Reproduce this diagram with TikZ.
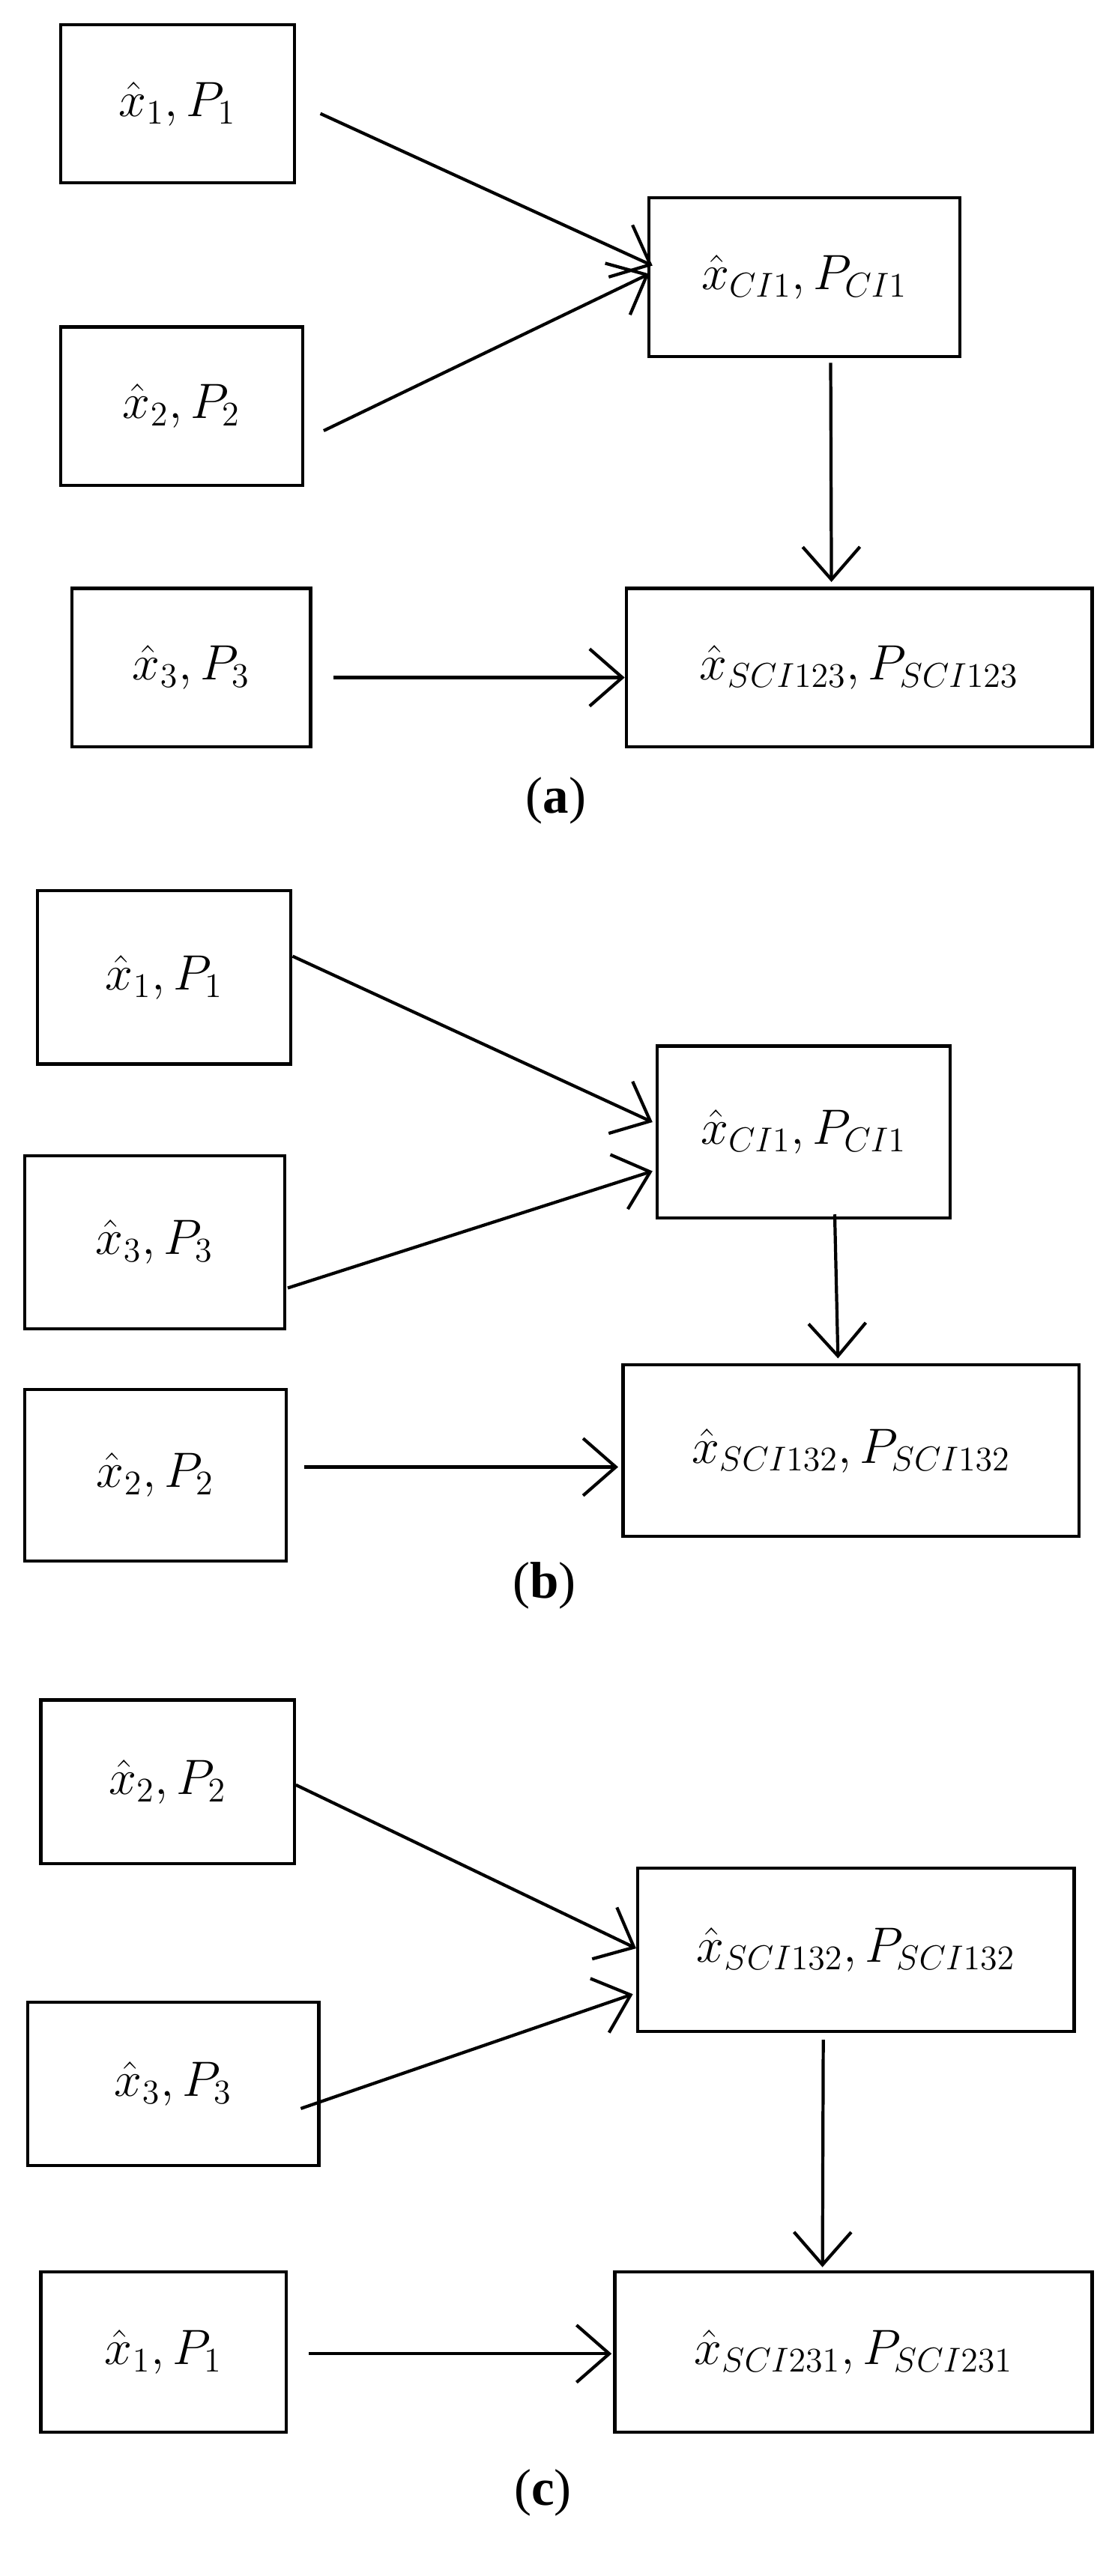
\documentclass[tikz,border=0pt]{standalone}
\usepackage{fontspec}
\setmainfont{Liberation Serif}
\usetikzlibrary{arrows.meta,calc}

\newcommand{\est}[1]{$\hat{x}_{#1},P_{#1}$}

\begin{document}
\begin{tikzpicture}[x=0.02cm,y=-0.02cm,
	box/.style={draw,line width=1.1pt,inner sep=0pt,font=\fontsize{17}{20}\selectfont},
	arr/.style={line width=1.1pt,-{Straight Barb[length=4mm,width=7mm,line width=1.1pt]}},
	sublabel/.style={font=\fontsize{18}{22}\selectfont}]
	\useasboundingbox (0,0) rectangle (680,1576);
	
	%(a)
	\node[box,minimum width=2.86cm,minimum height=1.94cm] (a1) at (108.5,63.5) {\est{1}};
	\node[box,minimum width=2.96cm,minimum height=1.94cm] (a2) at (111,248.5) {\est{2}};
	\node[box,minimum width=2.92cm,minimum height=1.94cm] (a3) at (117,408.5) {\est{3}};
	\node[box,minimum width=3.80cm,minimum height=1.94cm] (aci) at (492,169.5) {$\hat{x}_{CI1},P_{CI1}$};
	\node[box,minimum width=5.70cm,minimum height=1.94cm] (asci) at (525.5,408.5) {$\hat{x}_{SCI123},P_{SCI123}$};
	\node[sublabel] (alab) at (340,490) {(\textbf{a})};
	\draw[arr] ($(a1.east)+(15,6)$) -- ($(aci.west)+(3,-7)$);
	\draw[arr] ($(a2.east)+(12,15)$) -- ($(aci.west)+(1,-2)$);
	\draw[arr] ($(aci.south)+(16,3)$) -- ($(asci.north)+(-17,-3)$);
	\draw[arr] ($(a3.east)+(13,6)$) -- ($(asci.west)+(0,6)$);
	
	%(b)
	\node[box,minimum width=3.10cm,minimum height=2.12cm] (b1) at (100.5,598) {\est{1}};
	\node[box,minimum width=3.18cm,minimum height=2.12cm] (b3) at (94.5,760) {\est{3}};
	\node[box,minimum width=3.20cm,minimum height=2.10cm] (b2) at (95,902.5) {\est{2}};
	\node[box,minimum width=3.58cm,minimum height=2.10cm] (bci) at (491.5,692.5) {$\hat{x}_{CI1},P_{CI1}$};
	\node[box,minimum width=5.58cm,minimum height=2.10cm] (bsci) at (520.5,887.5) {$\hat{x}_{SCI132},P_{SCI132}$};
	\node[sublabel] (blab) at (333,970) {(\textbf{b})};
	\draw[arr] ($(b1.east)+(0,-13)$) -- ($(bci.west)+(-2,-6)$);
	\draw[arr] ($(b3.east)+(1,28)$) -- ($(bci.west)+(-2,24)$);
	\draw[arr] ($(bci.south)+(19,-3)$) -- ($(bsci.north)+(-8,-3)$);
	\draw[arr] ($(b2.east)+(10,-5)$) -- ($(bsci.west)+(-2,10)$);
	
	%(c)
	\node[box,minimum width=3.10cm,minimum height=2.00cm] (c2) at (102.5,1090) {\est{2}};
	\node[box,minimum width=3.56cm,minimum height=2.00cm] (c3) at (106,1275) {\est{3}};
	\node[box,minimum width=3.00cm,minimum height=1.96cm] (c1) at (100,1439) {\est{1}};
	\node[box,minimum width=5.34cm,minimum height=2.00cm] (csci) at (523.5,1193) {$\hat{x}_{SCI132},P_{SCI132}$};
	\node[box,minimum width=5.84cm,minimum height=1.96cm] (cfin) at (522,1439) {$\hat{x}_{SCI231},P_{SCI231}$};
	\node[sublabel] (clab) at (332,1525) {(\textbf{c})};
	\draw[arr] ($(c2.east)+(0,2)$) -- ($(csci.west)+(0,-1)$);
	\draw[arr] ($(c3.east)+(-12,15)$) -- ($(csci.west)+(-2,27)$);
	\draw[arr] ($(csci.south)+(-20,4)$) -- ($(cfin.north)+(-19,-2)$);
	\draw[arr] ($(c1.east)+(13,1)$) -- ($(cfin.west)+(-1,1)$);
\end{tikzpicture}
\end{document}
